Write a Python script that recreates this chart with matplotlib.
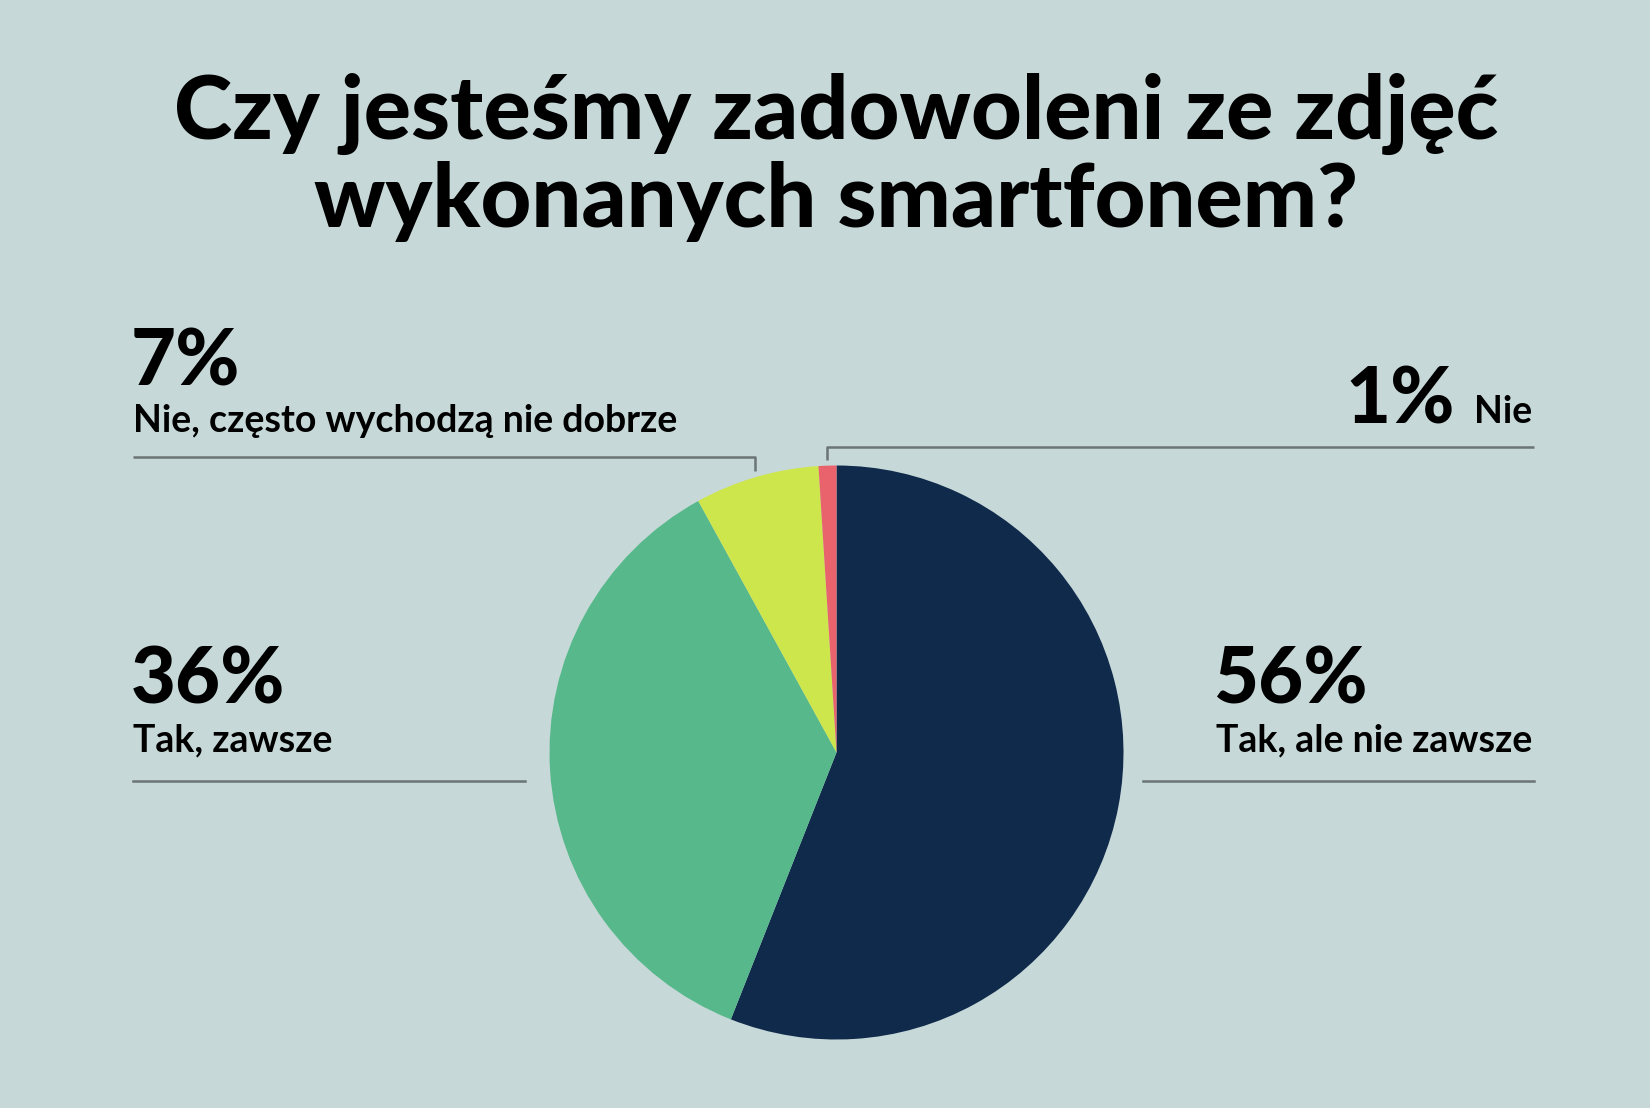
import numpy as np
import matplotlib
matplotlib.use('Agg')
import matplotlib.pyplot as plt

# data
labels = ['Tak, ale nie zawsze', 'Tak, zawsze', 'Nie, często wychodzą nie dobrze', 'Nie']
values = [56, 36, 7, 1]
colors = ['#0f2a4b', '#57b98b', '#cde64b', '#e8636b']
title_lines = ['Czy jesteśmy zadowoleni ze zdjęć', 'wykonanych smartfonem?']

W, H = 1650, 1108
bg = '#c7d8d8'
line_col = '#6b7575'
font = ['Lato', 'DejaVu Sans']

fig = plt.figure(figsize=(W / 100, H / 100), dpi=100, facecolor=bg)

# pie placement in pixels
cx, cy, r = 836.5, 752.5, 287
ax = fig.add_axes([(cx - r) / W, (H - cy - r) / H, 2 * r / W, 2 * r / H])
ax.pie(values, colors=colors, startangle=90, counterclock=False, radius=1,
       wedgeprops=dict(linewidth=0))
ax.set_xlim(-1, 1)
ax.set_ylim(-1, 1)
ax.set_aspect('equal')
ax.axis('off')

# overlay in pixel coords
ov = fig.add_axes([0, 0, 1, 1], facecolor='none')
ov.set_xlim(0, W)
ov.set_ylim(H, 0)
ov.axis('off')

for i, line in enumerate(title_lines):
    ov.text(836, 139 + i * 88, line, ha='center', va='baseline', fontsize=63.5,
            fontweight='black', family=font, color='black')

# mid angles of wedges
cum = np.cumsum([0] + values)
mids = [90 - 360 * (cum[i] + cum[i + 1]) / 2 / 100 for i in range(len(values))]

def edge(i, gap=6):
    a = np.deg2rad(mids[i])
    return cx + (r + gap) * np.cos(a), cy - (r + gap) * np.sin(a)

# 7% leader
x7, y7 = edge(2)
ov.plot([133, x7, x7], [457, 457, y7], color=line_col, lw=1.8, solid_capstyle='butt')
# 1% leader
x1, y1 = edge(3)
ov.plot([x1, x1, 1534], [y1, 447, 447], color=line_col, lw=1.8, solid_capstyle='butt')
# 36% and 56% lines
ov.plot([133, 525], [781, 781], color=line_col, lw=1.8)
ov.plot([1143, 1534], [781, 781], color=line_col, lw=1.8)

big = 56
small = 27
ov.text(131, 385, f'{values[2]}%', fontsize=big, fontweight='black', family=font, va='baseline')
ov.text(133, 432, labels[2], fontsize=small, fontweight='bold', family=font, va='baseline')

ov.text(131, 703, f'{values[1]}%', fontsize=big, fontweight='black', family=font, va='baseline')
ov.text(133, 751, labels[1], fontsize=small, fontweight='bold', family=font, va='baseline')

ov.text(1213, 703, f'{values[0]}%', fontsize=big, fontweight='black', family=font, va='baseline')
ov.text(1532, 751, labels[0], fontsize=small, fontweight='bold', family=font, va='baseline', ha='right')

ov.text(1532, 423, labels[3], fontsize=small, fontweight='bold', family=font, va='baseline', ha='right')
ov.text(1455, 423, f'{values[3]}%', fontsize=big, fontweight='black', family=font, va='baseline', ha='right')

fig.savefig('out.png', dpi=100, facecolor=bg)
